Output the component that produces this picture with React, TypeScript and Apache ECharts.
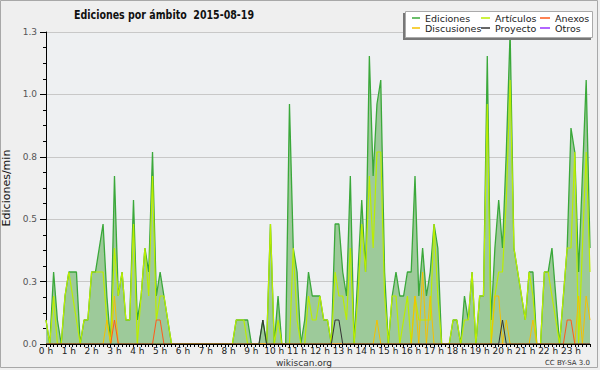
import React, { useEffect, useRef } from "react";
import * as echarts from "echarts";

const hourLabels = ["0 h","1 h","2 h","3 h","4 h","5 h","6 h","7 h","8 h","9 h","10 h","11 h","12 h","13 h","14 h","15 h","16 h","17 h","18 h","19 h","20 h","21 h","22 h","23 h"];
const minuteMarks = ["00", "10", "20", "30", "40", "50"];
const yTicks = [0, 0.26, 0.52, 0.78, 1.04, 1.3];

const ediciones = [
  0.1, 0, 0.3, 0.1, 0, 0.2, 0.3, 0.3, 0.3, 0, 0.1, 0.1,
  0.3, 0.3, 0.4, 0.5, 0.2, 0, 0.7, 0.2, 0.3, 0.1, 0.1, 0.6,
  0.1, 0.2, 0.4, 0.3, 0.8, 0.2, 0.3, 0.2, 0.1, 0, 0, 0,
  0, 0, 0, 0, 0, 0, 0, 0, 0, 0, 0, 0,
  0, 0, 0.1, 0.1, 0.1, 0.1, 0, 0, 0, 0.1, 0, 0.5,
  0, 0.2, 0, 0, 1.0, 0.4, 0.3, 0, 0.1, 0.3, 0.2, 0.2,
  0.2, 0.1, 0.1, 0, 0.5, 0.5, 0.3, 0.2, 0.7, 0, 0.3, 0.6,
  0.3, 1.2, 0.7, 1.0, 1.1, 0.3, 0, 0.2, 0.3, 0.2, 0.2, 0.3,
  0.3, 0.7, 0.2, 0.4, 0.2, 0.3, 0.5, 0.4, 0, 0, 0, 0.1,
  0.1, 0, 0.2, 0.1, 0.3, 0, 0.2, 0.2, 1.2, 0.1, 0.4, 0.6,
  0.4, 0.8, 1.3, 0.4, 0.3, 0.2, 0.1, 0.3, 0.3, 0, 0, 0.3,
  0.3, 0.4, 0.2, 0, 0.2, 0.4, 0.9, 0.8, 0.3, 0.7, 1.1, 0.4,
];

const articulos = [
  0.1, 0, 0.2, 0, 0, 0.2, 0.3, 0.2, 0.1, 0, 0.1, 0.1,
  0.3, 0.3, 0.3, 0.3, 0.1, 0, 0.4, 0.2, 0.3, 0.1, 0.1, 0.5,
  0, 0.2, 0.4, 0.2, 0.7, 0.1, 0.2, 0.2, 0.1, 0, 0, 0,
  0, 0, 0, 0, 0, 0, 0, 0, 0, 0, 0, 0,
  0, 0, 0.1, 0.1, 0.1, 0, 0, 0, 0, 0, 0, 0.5,
  0, 0.1, 0, 0, 0, 0.4, 0.1, 0, 0, 0.2, 0.1, 0.1,
  0.2, 0.1, 0.1, 0, 0.3, 0.2, 0.2, 0.1, 0.4, 0, 0.2, 0.5,
  0.3, 0.7, 0.4, 0.8, 0.8, 0.2, 0, 0.2, 0.2, 0, 0.1, 0.2,
  0, 0.2, 0.1, 0.1, 0.1, 0.1, 0.5, 0.2, 0, 0, 0, 0.1,
  0.1, 0, 0.1, 0.1, 0.3, 0, 0.2, 0.2, 1.0, 0, 0.2, 0.3,
  0.3, 0.6, 1.1, 0.4, 0.3, 0.2, 0.1, 0.3, 0.2, 0, 0, 0.3,
  0.3, 0.2, 0.1, 0, 0.2, 0.4, 0.4, 0.8, 0, 0.4, 0.8, 0.3,
];

const discusiones = [
  0, 0, 0, 0, 0, 0, 0, 0, 0, 0, 0, 0,
  0, 0, 0, 0, 0.1, 0, 0.2, 0, 0, 0, 0, 0,
  0, 0, 0, 0, 0, 0, 0, 0, 0, 0, 0, 0,
  0, 0, 0, 0, 0, 0, 0, 0, 0, 0, 0, 0,
  0, 0, 0, 0, 0, 0, 0, 0, 0, 0, 0, 0,
  0, 0, 0, 0, 0, 0, 0, 0, 0, 0, 0, 0,
  0, 0, 0, 0, 0, 0, 0, 0, 0, 0, 0, 0,
  0, 0, 0, 0.1, 0, 0, 0, 0, 0, 0, 0, 0,
  0, 0.2, 0, 0.3, 0, 0.2, 0, 0, 0, 0, 0, 0,
  0, 0, 0, 0, 0, 0, 0, 0, 0, 0, 0.2, 0.2,
  0, 0.1, 0, 0, 0, 0, 0, 0, 0.1, 0, 0, 0,
  0, 0, 0, 0, 0, 0, 0, 0, 0.2, 0, 0.2, 0.1,
];

const anexos = [
  0, 0, 0, 0, 0, 0, 0, 0, 0, 0, 0, 0,
  0, 0, 0, 0, 0, 0, 0.1, 0, 0, 0, 0, 0,
  0, 0, 0, 0, 0, 0.1, 0.1, 0, 0, 0, 0, 0,
  0, 0, 0, 0, 0, 0, 0, 0, 0, 0, 0, 0,
  0, 0, 0, 0, 0, 0, 0, 0, 0, 0, 0, 0,
  0, 0, 0, 0, 0, 0, 0, 0, 0, 0, 0, 0,
  0, 0, 0, 0, 0, 0, 0, 0, 0, 0, 0, 0,
  0, 0, 0, 0, 0, 0, 0, 0, 0, 0, 0, 0,
  0, 0, 0, 0, 0, 0, 0, 0, 0, 0, 0, 0,
  0, 0, 0, 0, 0, 0, 0, 0, 0, 0, 0, 0,
  0, 0, 0, 0, 0, 0, 0, 0, 0, 0, 0, 0,
  0, 0, 0, 0, 0, 0.1, 0.1, 0, 0, 0, 0, 0,
];

const proyecto = [
  0, 0, 0, 0, 0, 0, 0, 0, 0, 0, 0, 0,
  0, 0, 0, 0, 0, 0, 0, 0, 0, 0, 0, 0,
  0, 0, 0, 0, 0, 0, 0, 0, 0, 0, 0, 0,
  0, 0, 0, 0, 0, 0, 0, 0, 0, 0, 0, 0,
  0, 0, 0, 0, 0, 0, 0, 0, 0, 0.1, 0, 0,
  0, 0, 0, 0, 0, 0, 0, 0, 0, 0, 0, 0,
  0, 0, 0, 0, 0.1, 0.1, 0, 0, 0, 0, 0, 0,
  0, 0, 0, 0, 0, 0, 0, 0, 0, 0, 0, 0,
  0, 0, 0, 0, 0, 0, 0, 0, 0, 0, 0, 0,
  0, 0, 0, 0, 0, 0, 0, 0, 0, 0, 0, 0,
  0.1, 0, 0, 0, 0, 0, 0, 0, 0, 0, 0, 0,
  0, 0, 0, 0, 0, 0, 0, 0, 0, 0, 0, 0,
];

const otros: number[] = [];

const FONT = "'DejaVu Sans', sans-serif";

export default function App() {
  const ref = useRef<HTMLDivElement>(null);

  useEffect(() => {
    if (!ref.current) return;
    const chart = echarts.init(ref.current, null, { renderer: "svg" });
    const slots: string[] = [];
    hourLabels.forEach((h, i) => minuteMarks.forEach((m) => slots.push(`${i}:${m}`)));

    const lineSeries = (name: string, data: number[], color: string, width: number, extra: any = {}) => ({
      name,
      type: "line",
      data,
      symbol: "none",
      color,
      lineStyle: { color, width },
      ...extra,
    });

    const legendBase = {
      orient: "vertical",
      top: 13,
      padding: 0,
      itemGap: 0,
      itemHeight: 1.5,
      icon: "rect",
      textStyle: { fontSize: 9.5, color: "#222", lineHeight: 10, fontFamily: FONT },
    };

    chart.setOption({
      animation: false,
      backgroundColor: "#efefef",
      textStyle: { fontFamily: FONT },
      graphic: [
        { type: "rect", z: 100, silent: true, shape: { x: 0.5, y: 0.5, width: 597, height: 367 }, style: { fill: "none", stroke: "#a8a8a8", lineWidth: 1 } },
        { type: "rect", z: 100, silent: true, shape: { x: 403, y: 13, width: 188, height: 27 }, style: { fill: "#777" } },
        { type: "rect", z: 101, silent: true, shape: { x: 405.5, y: 11.5, width: 187, height: 26 }, style: { fill: "#fff", stroke: "#aaa", lineWidth: 1 } },
        {
          type: "text", z: 100, silent: true, x: 74, y: 8, scaleX: 0.73,
          style: { text: "Ediciones por ámbito  2015-08-19", fontSize: 13, fontWeight: "bold", fill: "#111", fontFamily: FONT },
        },
        { type: "text", z: 100, left: 276, top: 358, style: { text: "wikiscan.org", fontSize: 9, fill: "#333", fontFamily: FONT } },
        { type: "text", z: 100, right: 10, top: 359, style: { text: "CC BY-SA 3.0", fontSize: 7, fill: "#333", fontFamily: FONT } },
      ],
      legend: [
        { ...legendBase, left: 412, itemWidth: 8, data: ["Ediciones", "Discusiones"], z: 110 },
        { ...legendBase, left: 481, itemWidth: 9, data: ["Artículos", "Proyecto"], z: 110 },
        { ...legendBase, left: 540, itemWidth: 10, data: ["Anexos", "Otros"], z: 110 },
      ],
      grid: {
        left: 46, right: 10, top: 32, bottom: 26,
        outerBoundsMode: "none",
        containLabel: false,
        show: true, backgroundColor: "#eef0f2", borderWidth: 0,
      },
      xAxis: {
        type: "category",
        data: slots,
        boundaryGap: false,
        z: 5,
        axisLine: { lineStyle: { color: "#000", width: 1 } },
        axisTick: { interval: 0, length: 3, lineStyle: { color: "#000" } },
        axisLabel: {
          interval: 5,
          fontSize: 9,
          color: "#222",
          margin: 2,
          formatter: (_v: string, i: number) => hourLabels[Math.floor(i / 6)],
        },
        splitLine: { show: false },
      },
      yAxis: {
        type: "value",
        min: yTicks[0],
        max: yTicks[yTicks.length - 1],
        interval: yTicks[1],
        name: "Ediciones/min",
        nameLocation: "middle",
        nameGap: 30,
        nameTextStyle: { fontSize: 11, color: "#111", fontFamily: FONT },
        axisLine: { show: true, lineStyle: { color: "#000" } },
        axisTick: { show: true, length: 6, lineStyle: { color: "#000" } },
        minorTick: { show: true, splitNumber: 4, length: 3, lineStyle: { color: "#000" } },
        splitLine: { lineStyle: { color: "#c8c8c8" } },
        axisLabel: { fontSize: 9, color: "#555", margin: 9, formatter: (v: number) => v.toFixed(1) },
      },
      series: [
        lineSeries("Ediciones", ediciones, "#3aa83a", 1.3, { areaStyle: { color: "#9dca9a", opacity: 1 } }),
        lineSeries("Artículos", articulos, "#bbee00", 1.2),
        lineSeries("Discusiones", discusiones, "#f5c000", 1),
        lineSeries("Anexos", anexos, "#ff5a1a", 1),
        lineSeries("Proyecto", proyecto, "#333333", 1),
        lineSeries("Otros", otros, "#9933ff", 1),
      ],
    });
    return () => chart.dispose();
  }, []);

  return <div ref={ref} style={{ position: "absolute", left: 0, top: 0, width: 600, height: 370 }} />;
}
